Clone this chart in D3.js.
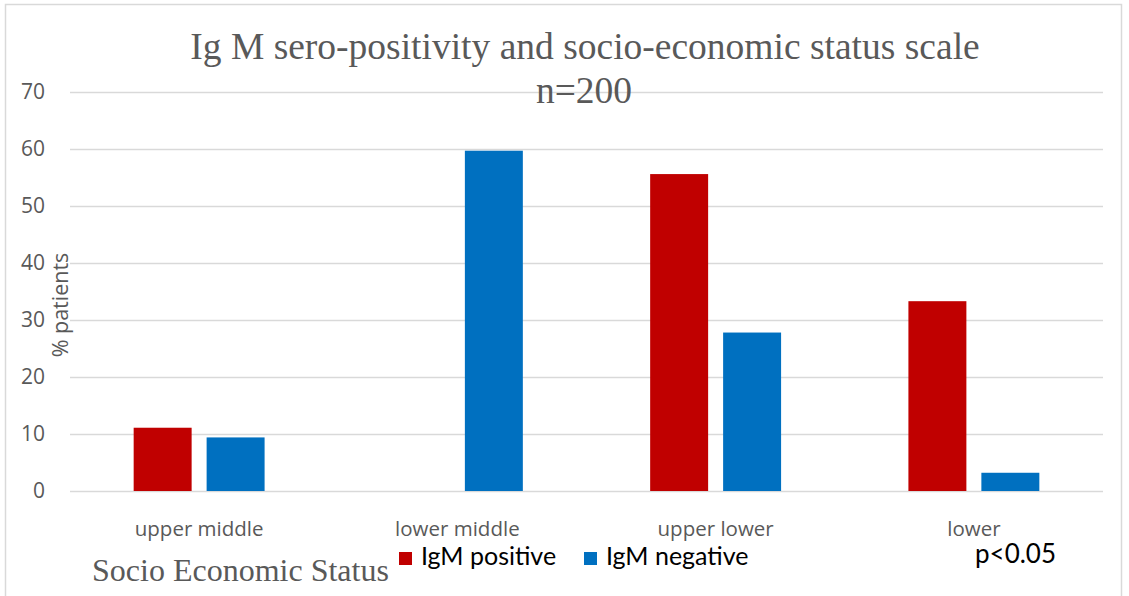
<!DOCTYPE html>
<html>
<head>
<meta charset="utf-8">
<script src="https://cdn.jsdelivr.net/npm/d3@7"></script>
<style>
  html, body { margin: 0; padding: 0; background: #fff; }
  svg { display: block; }
</style>
</head>
<body>
<div id="chart"></div>
<script>
// Socio-economic status categories and % of patients in each IgM group
const categories = ["upper middle", "lower middle", "upper lower", "lower"];
const seriesNames = ["IgM positive", "IgM negative"];
const igmPositive = [11.1, 0, 55.6, 33.3];
const igmNegative = [9.4, 59.7, 27.8, 3.2];
const yTicks = [0, 10, 20, 30, 40, 50, 60, 70];
const colors = ["#c00000", "#0070c0"];

const W = 1129, H = 596;
const plot = { left: 70, right: 1103, top: 92, bottom: 491 };

const svg = d3.select("#chart").append("svg")
  .attr("width", W).attr("height", H);

// chart frame
svg.append("rect")
  .attr("x", 5.5).attr("y", 4.5)
  .attr("width", 1116).attr("height", 600)
  .attr("fill", "#fff").attr("stroke", "#d9d9d9").attr("stroke-width", 1.5);

const rows = categories.map((c, i) => ({
  category: c,
  values: [igmPositive[i], igmNegative[i]]
}));

const x0 = d3.scaleBand().domain(categories)
  .range([plot.left, plot.right])
  .paddingInner(0.493).paddingOuter(0.2465);
const x1 = d3.scaleBand().domain(seriesNames)
  .range([0, x0.bandwidth()])
  .paddingInner(0.2055).paddingOuter(0);
const y = d3.scaleLinear().domain([0, 70]).range([plot.bottom, plot.top]);

// horizontal gridlines and value labels
const yAxis = d3.axisLeft(y).tickValues(yTicks).tickSize(-(plot.right - plot.left)).tickPadding(25);
const gy = svg.append("g").attr("transform", `translate(${plot.left},0)`).call(yAxis);
gy.select(".domain").remove();
gy.selectAll(".tick line").attr("stroke", "#d9d9d9").attr("stroke-width", 1.5);
gy.selectAll(".tick text")
  .attr("fill", "#595959")
  .style("font-family", "'Open Sans', sans-serif")
  .style("font-size", "21px");

// bars
const groups = svg.append("g").selectAll("g").data(rows).join("g")
  .attr("transform", d => `translate(${x0(d.category)},0)`);
groups.selectAll("rect")
  .data(d => d.values.map((v, k) => ({ name: seriesNames[k], value: v, k })))
  .join("rect")
  .attr("x", d => x1(d.name))
  .attr("width", x1.bandwidth())
  .attr("y", d => y(d.value))
  .attr("height", d => y(0) - y(d.value))
  .attr("fill", d => colors[d.k]);

// category labels
const xAxis = d3.axisBottom(x0).tickSize(0).tickPadding(30);
const gx = svg.append("g").attr("transform", `translate(0,${plot.bottom})`).call(xAxis);
gx.select(".domain").remove();
gx.selectAll(".tick text")
  .attr("fill", "#595959")
  .style("font-family", "'Open Sans', sans-serif")
  .style("font-size", "20.5px");

// title
svg.append("text")
  .attr("x", 585).attr("y", 59)
  .attr("text-anchor", "middle")
  .attr("fill", "#595959")
  .style("font-family", "'Liberation Serif', 'Times New Roman', serif")
  .style("font-size", "37.5px")
  .text("Ig M sero-positivity and socio-economic status scale");
svg.append("text")
  .attr("x", 584).attr("y", 103)
  .attr("text-anchor", "middle")
  .attr("fill", "#595959")
  .style("font-family", "'Liberation Serif', 'Times New Roman', serif")
  .style("font-size", "37.5px")
  .text("n=200");

// axis titles
svg.append("text")
  .attr("transform", "translate(68,305) rotate(-90)")
  .attr("text-anchor", "middle")
  .attr("fill", "#595959")
  .style("font-family", "'Open Sans', sans-serif")
  .style("font-size", "21.5px")
  .text("% patients");
svg.append("text")
  .attr("x", 92).attr("y", 581)
  .attr("fill", "#595959")
  .style("font-family", "'Liberation Serif', 'Times New Roman', serif")
  .style("font-size", "32px")
  .text("Socio Economic Status");

// legend
const legendX = [399, 584];
seriesNames.forEach((name, k) => {
  svg.append("rect")
    .attr("x", legendX[k]).attr("y", 552)
    .attr("width", 13).attr("height", 13)
    .attr("fill", colors[k]);
  svg.append("text")
    .attr("x", legendX[k] + 22).attr("y", 565)
    .attr("fill", "#000")
    .style("font-family", "Lato, 'Open Sans', sans-serif")
    .style("font-size", "25px")
    .text(name);
});

svg.append("text")
  .attr("x", 975).attr("y", 563)
  .attr("fill", "#000")
  .style("font-family", "Lato, 'Open Sans', sans-serif")
  .style("font-size", "26px")
  .text("p<0.05");
</script>
</body>
</html>
